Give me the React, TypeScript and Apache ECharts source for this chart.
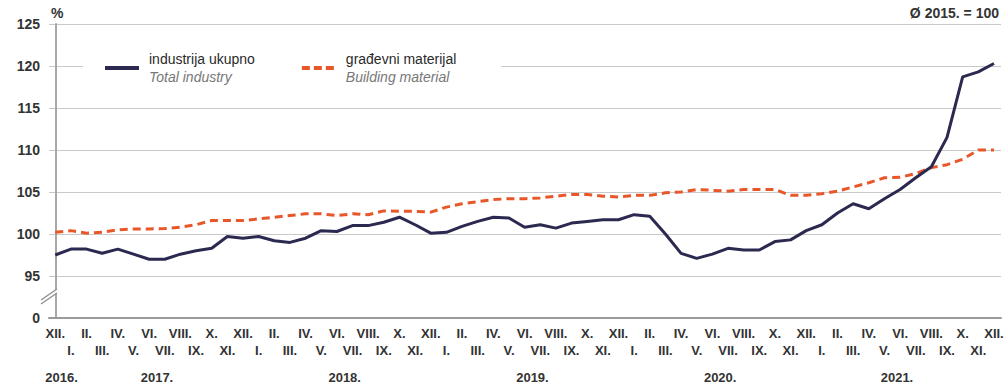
import React, { useEffect, useRef } from "react";
import * as echarts from "echarts";

const ROMANS = ["I.", "II.", "III.", "IV.", "V.", "VI.", "VII.", "VIII.", "IX.", "X.", "XI.", "XII."];
// Monthly points from XII 2016 to XII 2021 (61 months)
const monthLabels: string[] = Array.from({ length: 61 }, (_, i) => ROMANS[(i + 11) % 12]);

const yearLabels = ["2016.", "2017.", "2018.", "2019.", "2020.", "2021."];
// label anchor (in month-index units) for each year label
const yearAnchors = [0.4, 6.5, 18.5, 30.5, 42.5, 53.8];

const totalIndustry = [
  97.5, 98.2, 98.2, 97.7, 98.2, 97.6, 97.0, 97.0, 97.6, 98.0, 98.3, 99.7,
  99.5, 99.7, 99.2, 99.0, 99.5, 100.4, 100.3, 101.0, 101.0, 101.4, 102.0, 101.1,
  100.1, 100.2, 100.9, 101.5, 102.0, 101.9, 100.8, 101.1, 100.7, 101.3, 101.5, 101.7,
  101.7, 102.3, 102.1, 100.0, 97.7, 97.1, 97.6, 98.3, 98.1, 98.1, 99.1, 99.3,
  100.4, 101.1, 102.5, 103.6, 103.0, 104.2, 105.3, 106.7, 108.0, 111.5, 118.7, 119.3,
  120.3,
];

const buildingMaterial = [
  100.2, 100.4, 100.1, 100.2, 100.5, 100.6, 100.6, 100.65, 100.8, 101.1, 101.6, 101.6,
  101.6, 101.8, 102.0, 102.2, 102.4, 102.4, 102.2, 102.4, 102.3, 102.75, 102.7, 102.7,
  102.6, 103.2, 103.6, 103.85, 104.1, 104.2, 104.2, 104.3, 104.5, 104.7, 104.7, 104.5,
  104.4, 104.6, 104.6, 104.9, 105.0, 105.3, 105.2, 105.1, 105.3, 105.3, 105.3, 104.6,
  104.6, 104.8, 105.1, 105.6, 106.1, 106.7, 106.75, 107.2, 107.9, 108.25, 108.9, 110.0,
  110.0,
];

const seriesNames = ["industrija ukupno", "građevni materijal"];
const seriesNamesEn = ["Total industry", "Building material"];
const yTicks = [90, 95, 100, 105, 110, 115, 120, 125];

const FONT = "'Liberation Sans', Arial, Helvetica, sans-serif";
const TEXT = "#333333";

export default function App() {
  const ref = useRef<HTMLDivElement>(null);

  useEffect(() => {
    document.body.style.margin = "0";
    if (!ref.current) return;
    const chart = echarts.init(ref.current, null, { renderer: "svg" });

    const toPairs = (arr: number[]) => arr.map((v, i) => [i, v]);
    const yearMap: Record<number, string> = {};
    yearAnchors.forEach((a, i) => (yearMap[Math.round(a * 10)] = yearLabels[i]));

    const xBase = {
      type: "value" as const,
      min: -0.4,
      max: 60.45,
      interval: 0.1,
      splitLine: { show: false },
      axisTick: { show: false },
    };

    chart.setOption({
      animation: false,
      backgroundColor: "#ffffff",
      textStyle: { fontFamily: FONT },
      grid: { left: 49, right: 7, top: 24, bottom: 67, containLabel: false },
      legend: {
        left: 83,
        top: 48,
        padding: [4, 45, 4, 20],
        backgroundColor: "#ffffff",
        itemWidth: 34,
        itemHeight: 14,
        itemGap: 45,
        selectedMode: false,
        itemStyle: { opacity: 0 },
        lineStyle: { width: 4 },
        data: [
          { name: seriesNames[0], itemStyle: { opacity: 0 } },
          { name: seriesNames[1], itemStyle: { opacity: 0 }, lineStyle: { width: 4, type: [8, 4] } },
        ],
        formatter: (name: string) => {
          const i = seriesNames.indexOf(name);
          return `{a|${name}}\n{b|${seriesNamesEn[i]}}`;
        },
        textStyle: {
          fontFamily: FONT,
          rich: {
            a: { fontSize: 14, color: "#2a2a2a", lineHeight: 18, padding: [0, 0, 0, 5], fontFamily: FONT },
            b: { fontSize: 14, color: "#777777", fontStyle: "italic", lineHeight: 18, padding: [0, 0, 0, 5], fontFamily: FONT },
          },
        },
      },
      xAxis: [
        {
          ...xBase,
          axisLine: { show: true, onZero: false, lineStyle: { color: "#9a9a9a", width: 2 } },
          axisLabel: {
            show: true,
            margin: 7,
            fontSize: 13,
            fontWeight: "bold",
            color: TEXT,
            fontFamily: FONT,
            lineHeight: 17,
            showMinLabel: true,
            showMaxLabel: true,
            formatter: (v: number) => {
              const k = Math.round(v * 10);
              if (k < 0 || k % 10 !== 0) return "";
              const i = k / 10;
              if (i > 60) return "";
              return i % 2 === 0 ? monthLabels[i] : "\n" + monthLabels[i];
            },
          },
        },
        {
          ...xBase,
          position: "bottom",
          axisLine: { show: false },
          axisLabel: {
            show: true,
            margin: 53,
            fontSize: 13,
            fontWeight: "bold",
            color: TEXT,
            fontFamily: FONT,
            showMinLabel: true,
            showMaxLabel: true,
            formatter: (v: number) => yearMap[Math.round(v * 10)] || "",
          },
        },
      ],
      yAxis: {
        type: "value",
        min: yTicks[0],
        max: yTicks[yTicks.length - 1],
        interval: 5,
        axisLine: { show: true, lineStyle: { color: "#a8a8a8", width: 2 } },
        axisTick: { show: false },
        splitLine: { show: true, lineStyle: { color: "#c9c9c9", width: 1.2 } },
        axisLabel: {
          margin: 9,
          fontSize: 14,
          fontWeight: "bold",
          color: TEXT,
          fontFamily: FONT,
          formatter: (v: number) => (v === yTicks[0] ? "0" : String(v)),
        },
      },
      graphic: [
        {
          type: "text",
          left: 51,
          top: 6,
          style: { text: "%", fontSize: 14, fill: TEXT, fontFamily: FONT, fontWeight: "bold" },
        },
        {
          type: "text",
          right: 9,
          top: 6,
          style: { text: "Ø 2015. = 100", fontSize: 14, fill: TEXT, fontFamily: FONT, fontWeight: "bold" },
        },
        {
          type: "polygon",
          shape: { points: [[41, 300], [57, 289], [57, 293], [41, 304]] },
          style: { fill: "#ffffff" },
          z: 100,
        },
        {
          type: "line",
          shape: { x1: 41, y1: 300, x2: 57, y2: 289 },
          style: { stroke: "#8a8a8a", lineWidth: 1.2 },
          z: 101,
        },
        {
          type: "line",
          shape: { x1: 41, y1: 304, x2: 57, y2: 293 },
          style: { stroke: "#8a8a8a", lineWidth: 1.2 },
          z: 101,
        },
      ],
      series: [
        {
          name: seriesNames[1],
          type: "line",
          xAxisIndex: 0,
          data: toPairs(buildingMaterial),
          symbol: "none",
          lineStyle: { color: "#e8572a", width: 3, type: [8, 5] },
          itemStyle: { color: "#e8572a" },
          z: 2,
        },
        {
          name: seriesNames[0],
          type: "line",
          xAxisIndex: 0,
          data: toPairs(totalIndustry),
          symbol: "none",
          lineStyle: { color: "#2b2950", width: 3 },
          itemStyle: { color: "#2b2950" },
          z: 3,
        },
      ],
    });

    return () => chart.dispose();
  }, []);

  return <div ref={ref} style={{ width: 1008, height: 385 }} />;
}
